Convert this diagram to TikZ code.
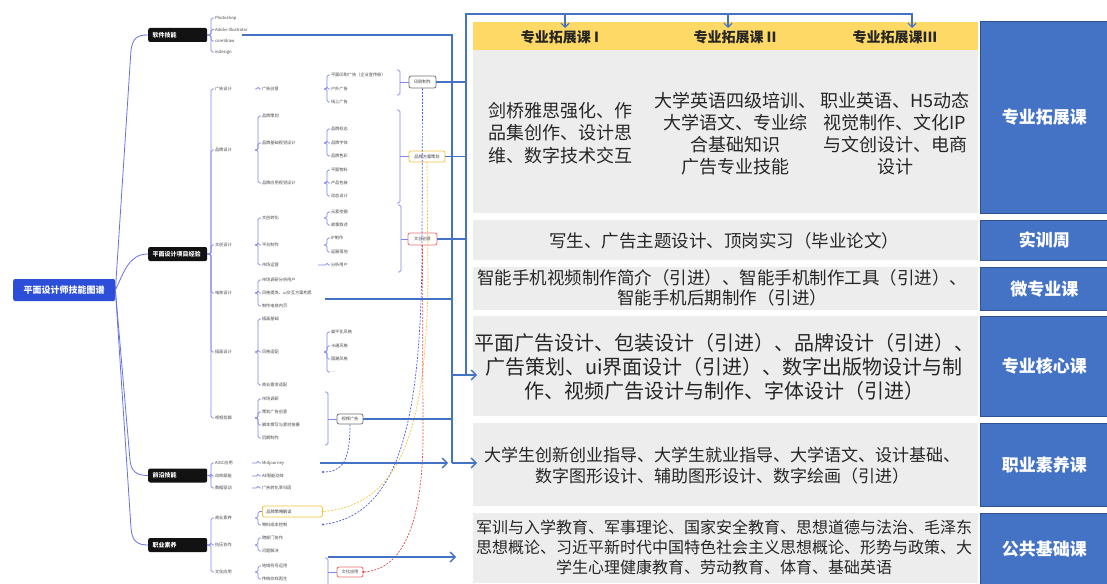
\documentclass[tikz,border=0pt]{standalone}
\usepackage{fontspec}
\setmainfont{Noto Sans CJK SC}
\usetikzlibrary{arrows.meta,calc}
\definecolor{cblue}{HTML}{4472C4}
\definecolor{cgray}{HTML}{EDEDED}
\definecolor{cyel}{HTML}{FFD966}
\definecolor{mmc}{HTML}{6872E6}
\definecolor{rootblue}{HTML}{2C4ED8}
\definecolor{dyel}{HTML}{F5C53A}
\definecolor{dred}{HTML}{E8474C}
\definecolor{dblu}{HTML}{4A5CE2}
\definecolor{bord}{HTML}{2F528F}
\definecolor{txt}{HTML}{262626}
\newcommand\brk[4]{\foreach \ch in {#4}{\draw[br] (#2,0 |- #1) -- (#3,0 |- #1) |- (\ch.west);}}
\begin{document}
\begin{tikzpicture}[x=1pt,y=-1pt,
 t/.style={anchor=west,inner xsep=0.8pt,inner ysep=0.4pt,font=\fontsize{4.2}{5}\selectfont,text=black!72},
 br/.style={draw=mmc!85,line width=0.6pt,rounded corners=1.6pt},
 mml/.style={draw=mmc,line width=0.8pt},
 lone/.style={anchor=west,fill=black!93,rounded corners=2pt,text=white,font=\fontsize{6}{7}\selectfont\bfseries,minimum height=14pt,text width=50pt,align=left,inner xsep=4.5pt,inner ysep=0pt},
 pbox/.style={draw=#1,fill=white,rounded corners=2pt,line width=0.8pt,inner sep=0pt,font=\fontsize{4.2}{5}\selectfont,text=black!75},
 conn/.style={draw=cblue,line width=1.5pt},
 arr/.style={-{Straight Barb[length=5pt,width=10pt,line width=1.3pt]}},
 arrs/.style={-{Straight Barb[length=4pt,width=8pt,line width=1.2pt]}},
 dsh/.style={line width=0.7pt,dash pattern=on 2pt off 1.4pt},
 gbox/.style={fill=cgray,anchor=north west,inner sep=0pt,minimum width=505pt},
 bbox/.style={fill=cblue,draw=bord,line width=0.6pt,anchor=north west,inner sep=0pt,minimum width=128pt,text=white,font=\fontsize{17}{20}\selectfont\bfseries},
 body/.style={align=center,text=txt,inner sep=0pt},
]
\useasboundingbox (0,0) rectangle (1107,583);
\fill[white] (0,0) rectangle (1107,583);

% ---------- right table ----------
\node[gbox,fill=cyel,minimum height=28pt] (yh) at (473,22) {};
\node[gbox,minimum height=163pt] (g1) at (473,50) {};
\node[gbox,minimum height=40pt] (g2) at (473,220) {};
\node[gbox,minimum height=43pt] (g3) at (473,267) {};
\node[gbox,minimum height=100pt] (g4) at (473,316) {};
\node[gbox,minimum height=83pt] (g5) at (473,423) {};
\node[gbox,minimum height=70pt] (g6) at (473,513) {};

\node[bbox,minimum height=192pt] (b1) at (980,21) {专业拓展课};
\node[bbox,minimum height=40pt] (b2) at (980,220) {实训周};
\node[bbox,minimum height=43pt] (b3) at (980,267) {微专业课};
\node[bbox,minimum height=100pt] (b4) at (980,316) {专业核心课};
\node[bbox,minimum height=83pt] (b5) at (980,423) {职业素养课};
\node[bbox,minimum height=71pt] (b6) at (980,513) {公共基础课};

\node[font=\fontsize{14}{16}\selectfont\bfseries,text=txt] (h1) at (560,37) {专业拓展课 I};
\node[font=\fontsize{14}{16}\selectfont\bfseries,text=txt] (h2) at (735,37) {专业拓展课 II};
\node[font=\fontsize{14}{16}\selectfont\bfseries,text=txt] (h3) at (895,37) {专业拓展课III};

\node[body,font=\fontsize{18}{22.5}\selectfont] (c1) at (560,133) {剑桥雅思强化、作\\品集创作、设计思\\维、数字技术交互};
\node[body,font=\fontsize{18}{22}\selectfont] (c2) at (735,134) {大学英语四级培训、\\大学语文、专业综\\合基础知识\\广告专业技能};
\node[body,font=\fontsize{18}{22}\selectfont] (c3) at (895,134) {职业英语、H5动态\\视觉制作、文化IP\\与文创设计、电商\\设计};

\node[body,font=\fontsize{17.5}{20}\selectfont] (r2) at (724,241) {写生、广告主题设计、顶岗实习（毕业论文）};
\node[body,font=\fontsize{17.5}{20}\selectfont] (r3) at (722,288) {智能手机视频制作简介（引进）、智能手机制作工具（引进）、\\智能手机后期制作（引进）};
\node[body,font=\fontsize{20}{24}\selectfont] (r4) at (724,367) {平面广告设计、包装设计（引进）、品牌设计（引进）、\\广告策划、ui界面设计（引进）、数字出版物设计与制\\作、视频广告设计与制作、字体设计（引进）};
\node[body,font=\fontsize{17}{21}\selectfont] (r5) at (722,466) {大学生创新创业指导、大学生就业指导、大学语文、设计基础、\\数字图形设计、辅助图形设计、数字绘画（引进）};
\node[body,font=\fontsize{16}{20}\selectfont] (r6) at (724,547) {军训与入学教育、军事理论、国家安全教育、思想道德与法治、毛泽东\\思想概论、习近平新时代中国特色社会主义思想概论、形势与政策、大\\学生心理健康教育、劳动教育、体育、基础英语};

% ---------- mind map ----------
\node[anchor=west,fill=rootblue,rounded corners=2pt,text=white,font=\fontsize{9}{10}\selectfont\bfseries,minimum width=102pt,minimum height=22pt,inner sep=0pt] (root) at (13,290) {平面设计师技能图谱};

\node[lone] (s1) at (148,35) {软件技能};
\node[lone] (s2) at (148,254) {平面设计项目经验};
\node[lone] (s3) at (148,475.5) {前沿技能};
\node[lone] (s4) at (148,545) {职业素养};

\draw[mml] (root.east) -- (131,50) .. controls (133,38) and (137,35) .. (s1.west);
\draw[mml] (root.east) .. controls (124,272) and (129,254) .. (s2.west);
\draw[mml] (root.east) -- (130,460) .. controls (131,471) and (136,475.5) .. (s3.west);
\draw[mml] (root.east) -- (131,528) .. controls (132,541) and (137,545) .. (s4.west);

% software
\node[t] (ps) at (214,18) {Photoshop};
\node[t] (ai) at (214,29.5) {Adobe Illustrator};
\node[t] (cd) at (214,41) {coreldraw};
\node[t] (idn) at (214,52) {indesign};
\brk{s1}{207}{211}{ps,ai,cd,idn}

% project experience level 2
\node[t] (a1) at (214,89) {广告设计};
\node[t] (a2) at (214,150) {品牌设计};
\node[t] (a3) at (214,245) {文创设计};
\node[t] (a4) at (214,293) {电商设计};
\node[t] (a5) at (214,352) {插画设计};
\node[t] (a6) at (214,418) {视频剪辑};
\brk{s2}{207}{211}{a1,a2,a3,a4,a5,a6}

% 广告设计
\node[t] (a11) at (261,89) {广告创意};
\brk{a1}{255}{258}{a11}
\node[t] (a111) at (330,75) {平面印刷广告（企业宣传册）};
\node[t] (a112) at (330,89) {户外广告};
\node[t] (a113) at (330,102) {线上广告};
\brk{a11}{324}{327}{a111,a112,a113}

% 品牌设计
\node[t] (a21) at (261,116) {品牌策划};
\node[t] (a22) at (261,143) {品牌基础视觉设计};
\node[t] (a23) at (261,183) {品牌应用视觉设计};
\brk{a2}{255}{258}{a21,a22,a23}
\node[t] (a221) at (330,129) {品牌标志};
\node[t] (a222) at (330,143) {品牌字体};
\node[t] (a223) at (330,156) {品牌色彩};
\brk{a22}{324}{327}{a221,a222,a223}
\node[t] (a231) at (330,170) {平面物料};
\node[t] (a232) at (330,183) {产品包装};
\node[t] (a233) at (330,196) {动态设计};
\brk{a23}{324}{327}{a231,a232,a233}

% 文创设计
\node[t] (a31) at (261,218) {文创转化};
\node[t] (a32) at (261,245) {平台制作};
\node[t] (a33) at (261,265) {市场运营};
\brk{a3}{255}{258}{a31,a32,a33}
\node[t] (a311) at (330,212) {元素挖掘};
\node[t] (a312) at (330,225) {故事叙述};
\brk{a31}{324}{327}{a311,a312}
\node[t] (a321) at (330,238) {IP制作};
\node[t] (a322) at (330,252) {延展落地};
\brk{a32}{324}{327}{a321,a322}
\node[t] (a331) at (330,265) {分析用户};
\brk{a33}{318}{327}{a331}

% 电商设计
\node[t] (a41) at (261,280) {市场调研分析用户};
\node[t] (a42) at (261,293) {风格提炼、ui交互方案构思};
\node[t] (a43) at (261,306) {制作电商内页};
\brk{a4}{255}{258}{a41,a42,a43}

% 插画设计
\node[t] (a51) at (261,319) {插画基础};
\node[t] (a52) at (261,352) {风格适配};
\node[t] (a53) at (261,385) {商业需求适配};
\brk{a5}{255}{258}{a51,a52,a53}
\node[t] (a521) at (330,332) {扁平化风格};
\node[t] (a522) at (330,346) {卡通风格};
\node[t] (a523) at (330,359) {国潮风格};
\node[t] (a524) at (330,372) {\ldots};
\brk{a52}{324}{327}{a521,a522,a523,a524}

% 视频剪辑
\node[t] (a61) at (261,399) {市场调研};
\node[t] (a62) at (261,412) {策划广告创意};
\node[t] (a63) at (261,425) {脚本撰写与素材拍摄};
\node[t] (a64) at (261,438) {后期制作};
\brk{a6}{255}{258}{a61,a62,a63,a64}

% 前沿技能
\node[t] (f1) at (214,463) {AIGC应用};
\node[t] (f2) at (214,476) {动效赋能};
\node[t] (f3) at (214,488) {数据驱动};
\brk{s3}{207}{211}{f1,f2,f3}
\node[t] (f11) at (261,463) {Midjourney};
\node[t] (f21) at (261,476) {AE智能动效};
\node[t] (f31) at (261,488) {广告转化率归因};
\brk{f1}{252}{258}{f11}
\brk{f2}{252}{258}{f21}
\brk{f3}{252}{258}{f31}

% 职业素养
\node[t] (z1) at (214,518) {商业素养};
\node[t] (z2) at (214,545) {抗压协作};
\node[t] (z3) at (214,572) {文化应用};
\brk{s4}{207}{211}{z1,z2,z3}
\node[anchor=west,draw=dyel,line width=0.8pt,rounded corners=2pt,minimum width=60pt,minimum height=11pt,text width=52pt,align=left,inner xsep=4pt,inner ysep=0pt,font=\fontsize{4.2}{5}\selectfont,text=black!75] (z11) at (262,511.5) {品牌策略解读};
\node[t] (z12) at (261,525) {物料成本控制};
\brk{z1}{255}{258}{z11,z12}
\node[t] (z21) at (261,538) {跨部门协作};
\node[t] (z22) at (261,551) {问题解决};
\brk{z2}{255}{258}{z21,z22}
\node[t] (z31) at (261,566) {地域符号运用};
\node[t] (z32) at (261,579) {传统纹样再生};
\brk{z3}{255}{258}{z31,z32}

% summary boxes
\node[pbox=black!55,minimum width=27pt,minimum height=12pt] (p1) at (422.5,82) {印刷制作};
\node[pbox=dyel,minimum width=36pt,minimum height=11pt] (p2) at (427,156.5) {品牌方案策划};
\node[pbox=dred!80,minimum width=29pt,minimum height=12pt] (p3) at (422.5,239) {文创创意};
\node[pbox=black!55,minimum width=26pt,minimum height=10pt] (p4) at (350,419) {视频广告};
\node[pbox=dred!80,minimum width=26pt,minimum height=10pt] (p5) at (350,572) {文化应用};

\draw[br] (397,70) -- (400,70) -- (400,95) -- (397,95);
\draw[br] (400,0 |- p1) -- (p1.west);
\draw[br] (397,110) -- (400,110) -- (400,203) -- (397,203);
\draw[br] (400,0 |- p2) -- (p2.west);
\draw[br] (398,205) -- (401,205) -- (401,272) -- (398,272);
\draw[br] (401,0 |- p3) -- (p3.west);
\draw[br] (325,392) -- (328,392) -- (328,445) -- (325,445);
\draw[br] (328,0 |- p4) -- (p4.west);
\draw[br] (325,558) -- (328,558) -- (328,584);
\draw[br] (328,0 |- p5) -- (p5.west);

% dashed links
\coordinate (d1) at (323,524.5);
\coordinate (d2) at (323,472);
\draw[dsh,draw=dblu] (p1.south) -- (422,250) .. controls (421,420) and (400,515) .. (d1);
\fill[dblu] (d1) circle (1.2);
\draw[dsh,draw=dyel] (p2.south) -- (428,280) .. controls (426,420) and (405,505) .. (z11.east);
\fill[dyel] (z11.east) circle (1.2);
\draw[dsh,draw=dred] (p3.south) -- (423,440) .. controls (422,530) and (400,570) .. (p5.east);
\fill[dred] (p5.east) circle (1.2);
\draw[dsh,draw=dblu] (p4.south) .. controls (350,462) and (342,472) .. (d2);
\fill[dblu] (d2) circle (1.2);

% blue connectors
\coordinate (sw) at (242,35);
\coordinate (e1) at (325,299);
\coordinate (ag) at (320,463);
\coordinate (wh) at (328,557);
\coordinate (t1) at (565,28);
\coordinate (t2) at (728,28);
\coordinate (t3) at (912,28);
\coordinate (k4) at (477,375);
\coordinate (k5) at (477,463);
\draw[conn] (sw) -- (452,35) -- (452,463);
\draw[conn,arr] (452,463) -- (k5);
\draw[conn,arr] (452,375) -- (k4);
\draw[conn] (466,375) -- (466,14) -- (912,14);
\draw[conn,arrs] (565,14) -- (t1);
\draw[conn,arrs] (728,14) -- (t2);
\draw[conn,arrs] (912,13.25) -- (t3);
\draw[conn] (p1.east) -- (466,0 |- p1);
\draw[conn] (p2.east) -- (466,0 |- p2);
\draw[conn] (p3.east) -- (466,0 |- p3);
\draw[conn] (p4.east) -- (452,0 |- p4);
\draw[conn] (e1) -- (452,299);
\draw[conn,arr] (ag) -- (448,463);
\draw[conn,arr] (wh) -- (456,557);
\end{tikzpicture}
\end{document}
